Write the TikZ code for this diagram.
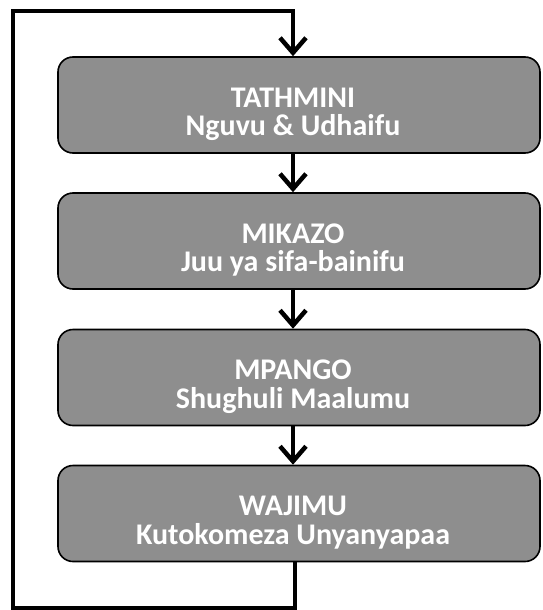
\documentclass[tikz,border=0pt]{standalone}
\usepackage{fontspec}
\setmainfont{Carlito}
\usetikzlibrary{arrows.meta}
\definecolor{boxgray}{RGB}{142,142,142}
\tikzset{
  stagebox/.style={draw=black, line width=1.6pt, fill=boxgray, rounded corners=15pt,
    minimum width=482pt, minimum height=96pt, inner sep=0pt},
  stagetext/.style={text=white, font=\fontsize{30}{32}\selectfont\bfseries, anchor=base, inner sep=0pt},
  conn/.style={line width=4pt, -{Straight Barb[length=15pt, width=26pt, line width=4.5pt]}},
  loopline/.style={line width=4pt, line join=miter, -{Straight Barb[length=15pt, width=26pt, line width=4.5pt]}}
}
\begin{document}
\begin{tikzpicture}[x=1pt, y=-1pt]
\useasboundingbox (0,0) rectangle (542,610);
\node[stagebox] (b1) at (299,105) {};
\node[stagebox] (b2) at (299,241) {};
\node[stagebox] (b3) at (299,377.5) {};
\node[stagebox] (b4) at (299,513.5) {};
\node[stagetext] (t1a) at (293,107) {TATHMINI};
\node[stagetext] (t1b) at (293,135.5) {Nguvu \& Udhaifu};
\node[stagetext] (t2a) at (293,243) {MIKAZO};
\node[stagetext] (t2b) at (293,271.5) {Juu ya sifa-bainifu};
\node[stagetext] (t3a) at (293,379.5) {MPANGO};
\node[stagetext] (t3b) at (293,408) {Shughuli Maalumu};
\node[stagetext] (t4a) at (293,515.5) {WAJIMU};
\node[stagetext] (t4b) at (293,544) {Kutokomeza Unyanyapaa};
\coordinate (ax) at (293,0);
\coordinate (c1) at (295,608);
\coordinate (c2) at (13,608);
\coordinate (c3) at (13,11);
\coordinate (c4) at (293,11);
\draw[conn] (b1.south -| ax) -- (b2.north -| ax);
\draw[conn] (b2.south -| ax) -- (b3.north -| ax);
\draw[conn] (b3.south -| ax) -- (b4.north -| ax);
\draw[loopline] (b4.south -| c1) -- (c1) -- (c2) -- (c3) -- (c4) -- (b1.north -| c4);
\end{tikzpicture}
\end{document}
